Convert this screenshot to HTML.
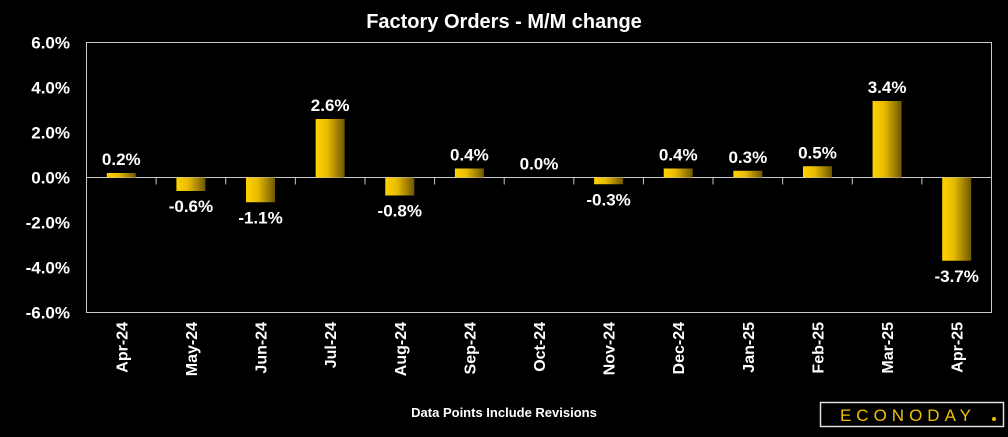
<!DOCTYPE html>
<html><head><meta charset="utf-8"><style>
body{margin:0;background:#000;width:1008px;height:432px;overflow:hidden}
svg{font-family:"Liberation Sans",sans-serif;font-weight:bold}
</style></head><body>
<svg id="c" width="1008" height="432">
<defs><linearGradient id="g" x1="0" x2="1" y1="0" y2="0"><stop offset="0" stop-color="#ffd200"/><stop offset="0.4" stop-color="#e8bc00"/><stop offset="1" stop-color="#6e5700"/></linearGradient></defs>
<text x="504" y="28" fill="#fff" font-size="20" text-anchor="middle">Factory Orders - M/M change</text>
<rect x="86.5" y="42.5" width="905" height="270" fill="none" stroke="#c8c8c8"/>
<g id="bars"></g>
<text x="504" y="417" fill="#fff" font-size="13" text-anchor="middle">Data Points Include Revisions</text>
<g>
<rect x="820.5" y="402.5" width="183" height="24" fill="#000" stroke="#ddd" stroke-width="1.5"/>
<text x="908" y="421" fill="#f0c000" font-size="17" text-anchor="middle" letter-spacing="5" font-weight="normal">ECONODAY</text>
<circle cx="994" cy="419" r="2" fill="#f0c000"/>
</g>
</svg>
<script>
const categories=["Apr-24","May-24","Jun-24","Jul-24","Aug-24","Sep-24","Oct-24","Nov-24","Dec-24","Jan-25","Feb-25","Mar-25","Apr-25"];
const values=[0.2,-0.6,-1.1,2.6,-0.8,0.4,0.0,-0.3,0.4,0.3,0.5,3.4,-3.7];
const yTicks=[6,4,2,0,-2,-4,-6];
const NS="http://www.w3.org/2000/svg";
const svg=document.getElementById('c'),g=document.getElementById('bars');
const L=86.5,R=991.5,T=42.5,B=312.5,ymin=-6,ymax=6;
const y=v=>T+(ymax-v)/(ymax-ymin)*(B-T);
const bw=(R-L)/categories.length;
const x=i=>L+bw*(i+0.5);
function mk(t,a){const e=document.createElementNS(NS,t);for(const k in a)e.setAttribute(k,a[k]);return e;}
yTicks.forEach(v=>{const t=mk('text',{x:70,y:y(v)+6,fill:'#fff','font-size':17,'text-anchor':'end'});t.textContent=v.toFixed(1)+'%';


svg.appendChild(t);});
const z=mk('line',{x1:L,x2:R,y1:y(0),y2:y(0),stroke:'#c8c8c8'});


g.appendChild(z);
for(let i=1;i<categories.length;i++){const l=mk('line',{x1:L+bw*i,x2:L+bw*i,y1:y(0),y2:y(0)+7,stroke:'#c8c8c8'});


g.appendChild(l);}
values.forEach((v,i)=>{const top=Math.min(y(v),y(0)),h=Math.abs(y(v)-y(0));
const r=mk('rect',{x:x(i)-14.5,y:top,width:29,height:Math.max(h,0),fill:'url(#g)'});


g.appendChild(r);
const ly=v>=0?y(v)-8:y(v)+21;
const t=mk('text',{x:x(i),y:ly,fill:'#fff','font-size':17,'text-anchor':'middle'});t.textContent=v.toFixed(1)+'%';


g.appendChild(t);
const c=mk('text',{transform:`translate(${x(i)+6},322) rotate(-90)`,fill:'#fff','font-size':16,'text-anchor':'end'});c.textContent=categories[i];


g.appendChild(c);});
</script>
</body></html>
